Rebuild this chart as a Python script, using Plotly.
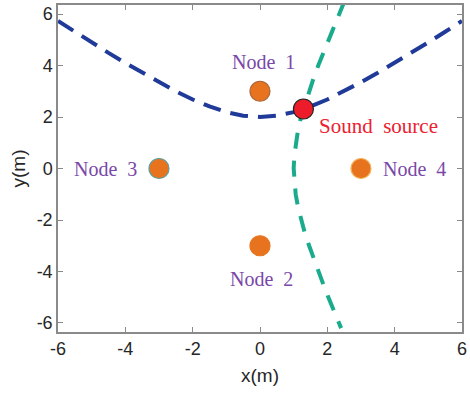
import plotly.graph_objects as go

# Blue dashed curve
blue_x = [-6, -5.5, -5, -4.5, -4, -3.5, -3, -2.5, -2, -1.5, -1, -0.5, 0,
          0.5, 1, 1.5, 2, 2.5, 3, 3.5, 4, 4.5, 5, 5.5, 6]
blue_y = [5.73, 5.31, 4.90, 4.49, 4.10, 3.72, 3.35, 3.00, 2.68, 2.41, 2.19, 2.05, 2.00,
          2.05, 2.19, 2.41, 2.68, 3.00, 3.35, 3.72, 4.10, 4.49, 4.90, 5.31, 5.73]

# Green dashed curve
green_y = [6.5, 6.0, 5.5, 5.0, 4.5, 4.0, 3.5, 3.0, 2.5, 2.0, 1.5, 1.0, 0.5, 0.0,
           -0.5, -1.0, -1.5, -2.0, -2.5, -3.0, -3.5, -4.0, -4.5, -5.0, -5.5, -6.0, -6.2]
green_x = [2.51, 2.35, 2.19, 2.03, 1.88, 1.73, 1.59, 1.46, 1.33, 1.22, 1.13, 1.06, 1.02, 1.00,
           1.02, 1.06, 1.13, 1.22, 1.33, 1.46, 1.59, 1.73, 1.88, 2.03, 2.19, 2.35, 2.41]

node_names = ["Node 1", "Node 2", "Node 3", "Node 4"]
node_x = [0, 0, -3, 3]
node_y = [3, -3, 0, 0]
node_outline = ["#a8643a", "#e8731e", "#5f9c9c", "#f2b45a"]

source_name = "Sound source"
source_x = [1.29]
source_y = [2.31]

tick_vals = [-6, -4, -2, 0, 2, 4, 6]
tick_text = ["-6", "-4", "-2", "0", "2", "4", "6"]

# label positions
label_x = [0.09, 0.03, -4.6, 4.6]
label_y = [4.13, -4.29, 0.0, 0.0]
source_label_x = 1.68
source_label_y = 1.66

fig = go.Figure()
fig.add_trace(go.Scatter(x=blue_x, y=blue_y, mode="lines",
                         line=dict(color="#1f3a98", width=4, dash="18px,10px"),
                         showlegend=False, hoverinfo="skip"))
fig.add_trace(go.Scatter(x=green_x, y=green_y, mode="lines",
                         line=dict(color="#1aab8c", width=4, dash="16px,12px"),
                         showlegend=False, hoverinfo="skip"))
fig.add_trace(go.Scatter(x=node_x, y=node_y, mode="markers",
                         marker=dict(color="#e8731e", size=20,
                                     line=dict(color=node_outline, width=1.2)),
                         showlegend=False))
fig.add_trace(go.Scatter(x=source_x, y=source_y, mode="markers",
                         marker=dict(color="#ec1c2a", size=20,
                                     line=dict(color="#222222", width=1.2)),
                         showlegend=False))

serif = "Liberation Serif, Times New Roman, serif"
for name, lx, ly in zip(node_names, label_x, label_y):
    fig.add_annotation(x=lx, y=ly, text=name.replace(" ", "\u00a0\u00a0"),
                       showarrow=False, xanchor="center", yanchor="middle",
                       font=dict(family=serif, size=20, color="#7a48a8"))
fig.add_annotation(x=source_label_x, y=source_label_y,
                   text=source_name.replace(" ", "\u00a0\u00a0"),
                   showarrow=False, xanchor="left", yanchor="middle",
                   font=dict(family=serif, size=21, color="#ec2030"))

axis_common = dict(showgrid=False, zeroline=False, showline=True,
                   linecolor="#8a8a8a", linewidth=1.5, mirror="ticks",
                   ticks="inside", ticklen=5, tickcolor="#8a8a8a", tickwidth=1.2,
                   tickfont=dict(family="Liberation Sans, Arial", size=18, color="#262626"),
                   tickvals=tick_vals, ticktext=tick_text, ticklabeloverflow="allow")
fig.update_xaxes(range=[-6, 6],
                 title=dict(text="x(m)", font=dict(family="Liberation Sans, Arial", size=19, color="#262626"),
                            standoff=10),
                 **axis_common)
fig.update_yaxes(range=[-6.35, 6.35],
                 title=dict(text="y(m)", font=dict(family="Liberation Sans, Arial", size=19, color="#262626"),
                            standoff=6),
                 **axis_common)
fig.update_layout(width=470, height=398, margin=dict(l=58, r=5, t=3, b=66),
                  plot_bgcolor="white", paper_bgcolor="white")
fig.write_html("out.html")
